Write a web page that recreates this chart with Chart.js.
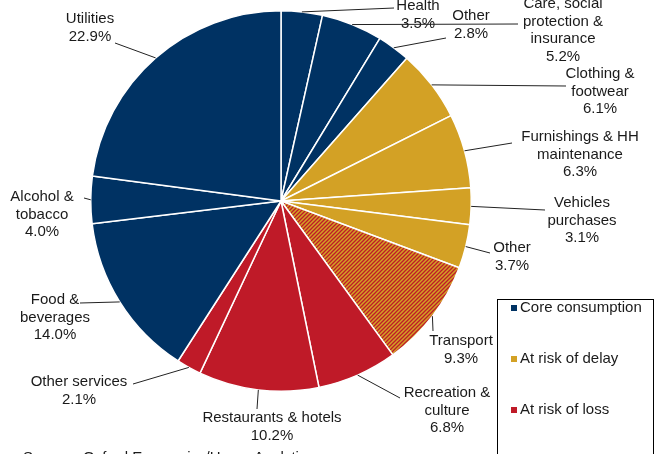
<!DOCTYPE html>
<html>
<head>
<meta charset="utf-8">
<script src="https://cdn.jsdelivr.net/npm/chart.js@4.4.0/dist/chart.umd.min.js"></script>
<style>
  html, body { margin: 0; padding: 0; background: #fff; }
  #wrap { width: 659px; height: 454px; position: relative; }
</style>
</head>
<body>
<div id="wrap"><canvas id="pieChart" width="659" height="454"></canvas></div>
<script>
// data, clockwise from 12 o'clock
const categories = ['Health', 'Care, social|protection &|insurance', 'Other', 'Clothing &|footwear',
    'Furnishings & HH|maintenance', 'Vehicles|purchases', 'Other', 'Transport', 'Recreation &|culture',
    'Restaurants & hotels', 'Other services', 'Food &|beverages', 'Alcohol &|tobacco', 'Utilities'];
const shares = [3.5, 5.2, 2.8, 6.1, 6.3, 3.1, 3.7, 9.3, 6.8, 10.2, 2.1, 14.0, 4.0, 22.9];
const groups = ['core', 'core', 'core', 'delay', 'delay', 'delay', 'delay', 'mixed', 'loss', 'loss', 'loss', 'core', 'core', 'core'];
const legendNames = ['Core consumption', 'At risk of delay', 'At risk of loss'];

const NAVY = '#003263', GOLD = '#D3A125', RED = '#BF1A28';

// label layout: [text centre x, first line y, leader end x, leader end y]
const labelLayout = [
    [418, 6, 394, 8], [563, 4, 518, 24], [471, 16, 446, 38], [600, 74, 566, 86],
    [580, 137, 512, 143], [582, 203, 545, 210], [512, 248, 490, 253], [461, 341, 433, 331],
    [447, 393, 400, 398], [272, 418, 257, 409], [79, 382, 133, 384], [55, 300, 80, 303],
    [42, 197, 84, 198], [90, 19, 115, 43]
];

function hatch() {
    const c = document.createElement('canvas');
    c.width = 4; c.height = 4;
    const g = c.getContext('2d');
    g.fillStyle = GOLD; g.fillRect(0, 0, 4, 4);
    g.strokeStyle = RED; g.lineWidth = 1.3;
    g.beginPath();
    g.moveTo(-1, 1); g.lineTo(1, -1);
    g.moveTo(0, 4); g.lineTo(4, 0);
    g.moveTo(3, 5); g.lineTo(5, 3);
    g.stroke();
    return g.createPattern(c, 'repeat');
}

const colorOf = { core: NAVY, delay: GOLD, loss: RED };

const labelsPlugin = {
    id: 'sliceLabels',
    afterDraw(chart) {
        const ctx = chart.ctx;
        const meta = chart.getDatasetMeta(0);
        ctx.save();
        ctx.font = '15px "Liberation Sans", Arial, sans-serif';
        ctx.fillStyle = '#1a1a1a';
        ctx.strokeStyle = '#222';
        ctx.lineWidth = 1;
        ctx.textAlign = 'center';
        ctx.textBaseline = 'middle';
        meta.data.forEach(function (arc, i) {
            const p = arc.getProps(['x', 'y', 'startAngle', 'endAngle', 'outerRadius'], true);
            const mid = (p.startAngle + p.endAngle) / 2;
            const sx = p.x + Math.cos(mid) * p.outerRadius;
            const sy = p.y + Math.sin(mid) * p.outerRadius;
            const L = labelLayout[i];
            ctx.beginPath();
            ctx.moveTo(sx, sy);
            ctx.lineTo(L[2], L[3]);
            ctx.stroke();
            const lines = categories[i].split('|').concat([shares[i].toFixed(1) + '%']);
            lines.forEach(function (t, k) {
                ctx.fillText(t, L[0], L[1] + k * 17.5);
            });
        });

        // legend box
        ctx.strokeStyle = '#000';
        ctx.strokeRect(497.5, 299.5, 156, 170);
        ctx.textAlign = 'left';
        const cols = [NAVY, GOLD, RED];
        legendNames.forEach(function (n, k) {
            const y = 308 + k * 51;
            ctx.fillStyle = cols[k];
            ctx.fillRect(511, y - 3, 6, 6);
            ctx.fillStyle = '#1a1a1a';
            ctx.fillText(n, 520, y);
        });

        ctx.textBaseline = 'alphabetic';
        ctx.fillText('Source : Oxford Economics/Haver Analytics', 23, 462);
        ctx.restore();
    }
};

document.addEventListener('DOMContentLoaded', function () {
    const ctx = document.getElementById('pieChart').getContext('2d');
    const pattern = hatch();
    new Chart(ctx, {
        type: 'pie',
        data: {
            labels: categories.map(function (c) { return c.replace(/\|/g, ' '); }),
            datasets: [{
                data: shares,
                backgroundColor: groups.map(function (g) { return g === 'mixed' ? pattern : colorOf[g]; }),
                borderColor: '#fff',
                borderWidth: 1.5,
                hoverOffset: 0
            }]
        },
        options: {
            responsive: false,
            animation: false,
            layout: { padding: { left: 90, right: 187, top: 10, bottom: 62 } },
            plugins: {
                legend: { display: false },
                tooltip: { enabled: false }
            }
        },
        plugins: [labelsPlugin]
    });
});
</script>
</body>
</html>
